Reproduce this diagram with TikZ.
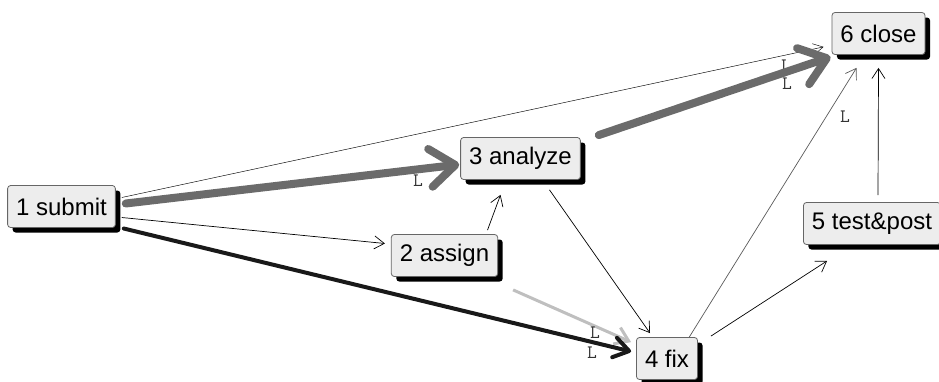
\documentclass[tikz,border=0pt]{standalone}
\usepackage{fontspec}
\setmainfont{Liberation Sans}
\usetikzlibrary{arrows.meta,shadows,calc,backgrounds}

\begin{document}
\begin{tikzpicture}[x=1pt,y=-1pt,
  stage/.style={draw=black!60, fill=black!7, rounded corners=3pt, line width=0.8pt,
    font=\fontsize{24}{27}\selectfont, inner xsep=8.5pt, minimum height=42pt,
    drop shadow={fill=black, opacity=1, shadow xshift=5pt, shadow yshift=-5pt}},
  thin/.style={draw=black, line width=0.7pt, -{Straight Barb[length=10pt,width=13pt]}},
  hair/.style={draw=black, line width=0.45pt, -{Straight Barb[length=10pt,width=11pt]}},
  greythin/.style={draw=black!65, line width=0.7pt, -{Straight Barb[length=10pt,width=13pt]}},
  pale/.style={draw=black!25, line width=3pt, -{Straight Barb[length=13pt,width=18pt]}},
  heavy/.style={draw=black!90, line width=4pt, line cap=round, -{Straight Barb[length=15pt,width=20pt,line cap=round,line join=round]}},
  critical/.style={draw=black!58, line width=8pt, line cap=round, -{Straight Barb[length=25pt,width=38pt,line cap=round,line join=round]}},
  lbl/.style={font=\ttfamily\fontsize{19}{19}\selectfont, text=black!80, inner sep=0pt}
]
\useasboundingbox (0,0) rectangle (939,381);
\clip (0,0) rectangle (939,381);

% process stages
\node[stage] (n1) at (61.5,206.5) {1 submit};
\node[stage] (n3) at (520.5,158.5) {3 analyze};
\node[stage] (n2) at (444.5,255.5) {2 assign};
\node[stage] (n4) at (667,358.5) {4 fix};
\node[stage] (n6) at (878.5,33.5) {6 close};
\node[stage] (n5) at (872,223.5) {5 test\&post};

\begin{scope}[on background layer]
  % ordinary transitions
  \draw[hair] ($(n1.east)+(6,-9)$) -- ($(n6.south west)+(-8,-8)$);
  \draw[thin] ($(n1.east)+(6,11)$) -- ($(n2.west)+(-6,-12)$);
  \draw[thin] ($(n2.north)+(43,-4)$) -- ($(n3.south)+(-20,15)$);
  \draw[thin] ($(n3.south)+(29,10)$) -- ($(n4.north)+(-17,-4)$);
  \draw[greythin] ($(n4.north)+(21,2)$) -- ($(n6.south)+(-22,13)$);
  \draw[thin] ($(n4.north east)+(13,-1)$) -- ($(n5.south west)+(24,16)$);
  \draw[thin] ($(n5.north)+(6,-7)$) -- ($(n6.south)+(0,13)$);
  \draw[pale] ($(n2.south east)+(15,13)$) -- ($(n4.north west)+(-5,5)$);

  % edge labels
  \node[lbl] (l16) at (786,66) {L};
  \node[lbl] (l36) at (787,84) {L};
  \node[lbl] (l46) at (845,117) {L};
  \node[lbl] (l13) at (418,181) {L};
  \node[lbl] (l24) at (595,333) {L};
  \node[lbl] (l14) at (592,353) {L};

  % heavy transitions
  \draw[heavy] ($(n1.east)+(8,22)$) -- ($(n4.west)+(-5,-7)$);
  \draw[critical] ($(n1.east)+(10,-3)$) -- ($(n3.west)+(-1,6)$);
  \draw[critical] ($(n3.north east)+(18,-2)$) -- ($(n6.south west)+(-1,2)$);
\end{scope}
\end{tikzpicture}
\end{document}
